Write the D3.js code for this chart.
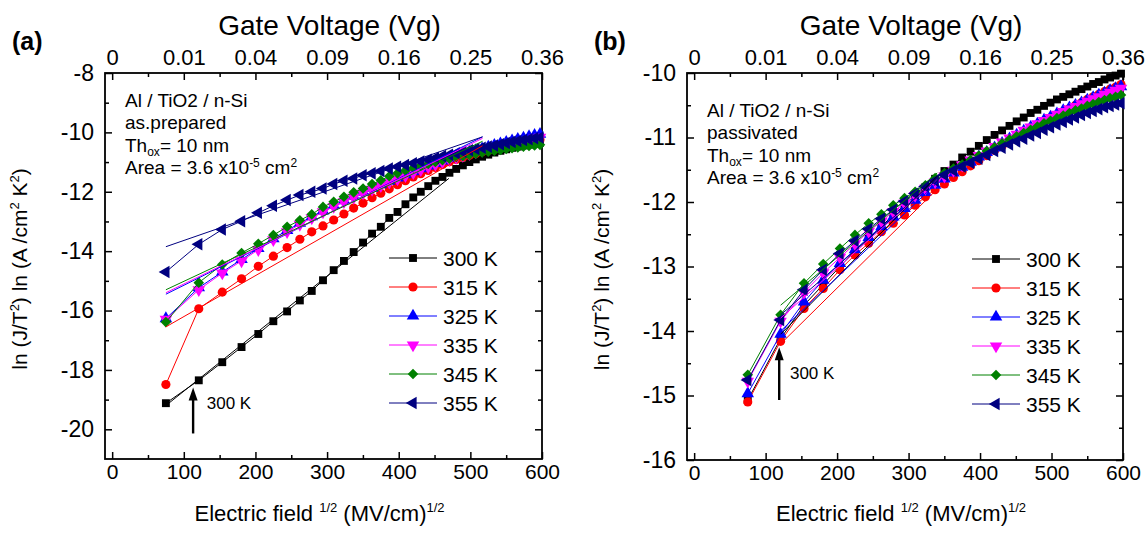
<!DOCTYPE html>
<html>
<head>
<meta charset="utf-8">
<script src="https://cdn.jsdelivr.net/npm/d3@7"></script>
<style>
body { margin: 0; background: #fff; }
svg { display: block; font-family: "Liberation Sans", Arial, sans-serif; }
</style>
</head>
<body>
<div id="app"></div>
<script>
// E^1/2 values (MV/cm)^1/2, shared by every series of both panels
var fieldSqrt = [75, 120.9, 153.7, 180.6, 204.0, 225.0, 244.2, 262.0, 278.6, 294.3, 309.2, 323.5, 337.1, 350.2, 362.8, 375.0,
  386.8, 398.3, 409.4, 420.3, 430.8, 441.2, 451.2, 461.1, 470.8, 480.2, 489.5, 498.6, 507.6, 516.4, 525.0, 533.5,
  541.9, 550.1, 558.2, 566.2, 574.1, 581.9, 589.6, 597.2];

var temps = ["300 K", "315 K", "325 K", "335 K", "345 K", "355 K"];
var colors = ["#000000", "#ff0000", "#0000ff", "#ff00ff", "#008000", "#000080"];
var gateLabels = ["0", "0.01", "0.04", "0.09", "0.16", "0.25", "0.36"];
var xMajor = [0, 100, 200, 300, 400, 500, 600];
var xMinor = [50, 150, 250, 350, 450, 550];

// panel (a): as prepared
var a300 = [-19.12, -18.35, -17.74, -17.23, -16.79, -16.36, -16.03, -15.66, -15.34, -14.98, -14.64, -14.33, -14.03, -13.71, -13.41, -13.18,
  -12.88, -12.68, -12.42, -12.19, -12.0, -11.81, -11.63, -11.5, -11.36, -11.23, -11.11, -11.0, -10.91, -10.82, -10.75, -10.68,
  -10.62, -10.57, -10.52, -10.48, -10.44, -10.41, -10.38, -10.35];
var a315 = [-18.49, -15.94, -15.38, -14.93, -14.51, -14.17, -13.88, -13.6, -13.35, -13.15, -12.95, -12.75, -12.55, -12.38, -12.2, -12.05,
  -11.9, -11.76, -11.63, -11.5, -11.39, -11.28, -11.18, -11.08, -10.99, -10.91, -10.84, -10.77, -10.71, -10.65, -10.6, -10.55,
  -10.5, -10.46, -10.42, -10.38, -10.35, -10.31, -10.28, -10.25];
var a325 = [-16.27, -15.23, -14.7, -14.28, -13.91, -13.58, -13.3, -13.06, -12.84, -12.64, -12.46, -12.3, -12.15, -12.01, -11.88, -11.76,
  -11.64, -11.53, -11.42, -11.32, -11.22, -11.13, -11.04, -10.96, -10.88, -10.81, -10.74, -10.67, -10.61, -10.55, -10.49, -10.43,
  -10.38, -10.33, -10.28, -10.23, -10.19, -10.14, -10.1, -10.06];
var a335 = [-16.3, -15.3, -14.74, -14.33, -13.95, -13.62, -13.35, -13.1, -12.88, -12.68, -12.5, -12.34, -12.19, -12.05, -11.92, -11.8,
  -11.68, -11.57, -11.46, -11.36, -11.26, -11.17, -11.08, -11.0, -10.92, -10.85, -10.78, -10.72, -10.66, -10.6, -10.55, -10.5,
  -10.45, -10.4, -10.36, -10.32, -10.28, -10.24, -10.2, -10.17];
var a345 = [-16.39, -15.06, -14.45, -14.06, -13.75, -13.46, -13.18, -12.96, -12.76, -12.51, -12.34, -12.17, -12.02, -11.89, -11.74, -11.61,
  -11.48, -11.38, -11.28, -11.2, -11.12, -11.06, -11.0, -10.94, -10.89, -10.84, -10.8, -10.76, -10.72, -10.68, -10.65, -10.62,
  -10.59, -10.56, -10.53, -10.51, -10.48, -10.46, -10.44, -10.42];
var a355 = [-14.7, -13.77, -13.27, -12.99, -12.71, -12.47, -12.28, -12.11, -12.0, -11.89, -11.74, -11.63, -11.55, -11.44, -11.38, -11.3,
  -11.22, -11.16, -11.1, -11.04, -10.98, -10.92, -10.86, -10.8, -10.75, -10.7, -10.65, -10.6, -10.56, -10.52, -10.48, -10.44,
  -10.4, -10.36, -10.32, -10.29, -10.26, -10.23, -10.2, -10.17];
// straight fits [x0, y0, x1, y1]
var fitsA = [[75, -19.2, 470, -11.55], [75, -16.55, 517, -10.45], [75, -15.45, 517, -10.15],
  [75, -15.4, 517, -10.2], [75, -15.3, 517, -10.3], [75, -13.85, 517, -10.15]];

// panel (b): passivated
var b300 = [-15.07, -14.12, -13.6, -13.28, -13.0, -12.76, -12.56, -12.38, -12.2, -12.05, -11.9, -11.77, -11.64, -11.52, -11.42, -11.31,
  -11.22, -11.13, -11.04, -10.96, -10.89, -10.82, -10.75, -10.69, -10.62, -10.57, -10.51, -10.46, -10.41, -10.37, -10.33, -10.29,
  -10.25, -10.21, -10.17, -10.14, -10.1, -10.07, -10.04, -10.01];
var b315 = [-15.1, -14.16, -13.65, -13.34, -13.05, -12.82, -12.64, -12.46, -12.33, -12.2, -12.05, -11.92, -11.81, -11.72, -11.62, -11.53,
  -11.44, -11.36, -11.28, -11.2, -11.13, -11.06, -11.0, -10.93, -10.87, -10.81, -10.76, -10.7, -10.65, -10.6, -10.55, -10.5,
  -10.46, -10.41, -10.37, -10.33, -10.29, -10.25, -10.22, -10.18];
var b325 = [-14.97, -14.05, -13.55, -13.21, -12.95, -12.74, -12.55, -12.38, -12.23, -12.1, -11.97, -11.85, -11.74, -11.64, -11.55, -11.46,
  -11.38, -11.3, -11.23, -11.16, -11.09, -11.02, -10.96, -10.9, -10.84, -10.79, -10.73, -10.68, -10.63, -10.58, -10.54, -10.5,
  -10.46, -10.42, -10.38, -10.34, -10.31, -10.27, -10.24, -10.21];
var b335 = [-14.78, -13.85, -13.4, -13.1, -12.86, -12.65, -12.46, -12.3, -12.15, -12.02, -11.9, -11.79, -11.69, -11.6, -11.51, -11.43,
  -11.35, -11.28, -11.21, -11.14, -11.07, -11.01, -10.95, -10.89, -10.84, -10.79, -10.74, -10.69, -10.64, -10.6, -10.56, -10.52,
  -10.48, -10.44, -10.4, -10.37, -10.33, -10.3, -10.27, -10.24];
var b345 = [-14.68, -13.75, -13.26, -12.96, -12.72, -12.51, -12.33, -12.19, -12.05, -11.94, -11.84, -11.74, -11.63, -11.55, -11.48, -11.42,
  -11.35, -11.28, -11.21, -11.15, -11.09, -11.03, -10.98, -10.93, -10.88, -10.83, -10.78, -10.74, -10.7, -10.66, -10.62, -10.58,
  -10.55, -10.51, -10.48, -10.45, -10.42, -10.39, -10.37, -10.34];
var b355 = [-14.76, -13.83, -13.36, -13.05, -12.8, -12.6, -12.42, -12.26, -12.12, -11.99, -11.87, -11.76, -11.67, -11.58, -11.51, -11.45,
  -11.39, -11.33, -11.27, -11.21, -11.16, -11.11, -11.06, -11.02, -10.97, -10.93, -10.88, -10.84, -10.8, -10.76, -10.72, -10.69,
  -10.65, -10.62, -10.59, -10.56, -10.53, -10.51, -10.49, -10.47];
var fitsB = [[121, -14.05, 340, -11.6], [121, -14.2, 340, -11.8], [121, -14.0, 340, -11.7],
  [121, -13.8, 340, -11.65], [121, -13.6, 340, -11.55], [121, -13.75, 340, -11.65]];

var W = 1146, H = 537;
var svg = d3.select("#app").append("svg").attr("width", W).attr("height", H);

// marker shapes: square, circle, up, down, diamond, left
var shapes = [
  {type: d3.symbolSquare, size: 62, rot: 0},
  {type: d3.symbolCircle, size: 66, rot: 0},
  {type: d3.symbolTriangle, size: 68, rot: 0},
  {type: d3.symbolTriangle, size: 68, rot: 180},
  {type: d3.symbolSquare, size: 56, rot: 45},
  {type: d3.symbolTriangle, size: 68, rot: -90}
];

function styleAxis(g, fs) {
  g.select(".domain").remove();
  g.selectAll("line").attr("stroke", "#000").attr("stroke-width", 1.5);
  g.selectAll("text").attr("font-size", fs).attr("fill", "#000")
    .attr("font-family", "'Liberation Sans', Arial, sans-serif");
}

function drawPanel(p) {
  var x = d3.scaleLinear().domain([-10, 600]).range([p.left, p.right]);
  var y = d3.scaleLinear().domain(p.yDomain).range([p.bottom, p.top]);
  var g = svg.append("g");

  // axes, ticks pointing inwards
  g.append("g").attr("transform", "translate(0," + p.bottom + ")")
    .call(d3.axisBottom(x).tickValues(xMajor).tickSize(-7).tickPadding(5).tickFormat(function (d) { return String(d); }))
    .call(styleAxis, 21);
  g.append("g").attr("transform", "translate(0," + p.bottom + ")")
    .call(d3.axisBottom(x).tickValues(xMinor).tickSize(-4).tickFormat(""))
    .call(styleAxis, 21);
  g.append("g").attr("transform", "translate(0," + p.top + ")")
    .call(d3.axisTop(x).tickValues(xMajor).tickSize(-7).tickPadding(8).tickFormat(function (d, i) { return gateLabels[i]; }))
    .call(styleAxis, 22);
  g.append("g").attr("transform", "translate(0," + p.top + ")")
    .call(d3.axisTop(x).tickValues(xMinor).tickSize(-4).tickFormat(""))
    .call(styleAxis, 22);
  g.append("g").attr("transform", "translate(" + p.left + ",0)")
    .call(d3.axisLeft(y).tickValues(p.yMajor).tickSize(-7).tickPadding(11).tickFormat(function (d) { return String(d); }))
    .call(styleAxis, 23);
  g.append("g").attr("transform", "translate(" + p.left + ",0)")
    .call(d3.axisLeft(y).tickValues(p.yMinor).tickSize(-4).tickFormat(""))
    .call(styleAxis, 23);
  g.append("g").attr("transform", "translate(" + p.right + ",0)")
    .call(d3.axisRight(y).tickValues(p.yMajor).tickSize(-7).tickFormat(""))
    .call(styleAxis, 23);
  g.append("g").attr("transform", "translate(" + p.right + ",0)")
    .call(d3.axisRight(y).tickValues(p.yMinor).tickSize(-4).tickFormat(""))
    .call(styleAxis, 23);

  g.append("rect").attr("x", p.left).attr("y", p.top)
    .attr("width", p.right - p.left).attr("height", p.bottom - p.top)
    .attr("fill", "none").attr("stroke", "#000").attr("stroke-width", 1.8);

  var line = d3.line().x(function (d) { return x(d[0]); }).y(function (d) { return y(d[1]); });

  p.series.forEach(function (vals, i) {
    var pts = vals.map(function (v, k) { return [fieldSqrt[k], v]; });
    var s = g.append("g");
    s.append("path").datum(pts).attr("d", line)
      .attr("fill", "none").attr("stroke", colors[i]).attr("stroke-width", 1);
    var sym = d3.symbol().type(shapes[i].type).size(shapes[i].size);
    s.selectAll("path.m").data(pts).enter().append("path").attr("class", "m")
      .attr("d", sym)
      .attr("transform", function (d) { return "translate(" + x(d[0]) + "," + y(d[1]) + ") rotate(" + shapes[i].rot + ")"; })
      .attr("fill", colors[i]);
  });

  p.fits.forEach(function (f, i) {
    g.append("path").datum([[f[0], f[1]], [f[2], f[3]]]).attr("d", line)
      .attr("fill", "none").attr("stroke", colors[i]).attr("stroke-width", 1);
  });

  // legend
  temps.forEach(function (t, i) {
    var lg = g.append("g").attr("transform", "translate(" + p.legX + "," + (p.legY + i * 29) + ")");
    lg.append("line").attr("x1", 0).attr("x2", 48).attr("stroke", colors[i]).attr("stroke-width", 1);
    lg.append("path").attr("d", d3.symbol().type(shapes[i].type).size(shapes[i].size))
      .attr("transform", "translate(24,0) rotate(" + shapes[i].rot + ")").attr("fill", colors[i]);
    lg.append("text").attr("x", 54).attr("y", 7.5).attr("font-size", 21).text(t);
  });

  // sample description
  var tx = p.left + 20, ty = p.noteY;
  var fs = 19;
  g.append("text").attr("x", tx).attr("y", ty).attr("font-size", fs).text("Al / TiO2 / n-Si");
  g.append("text").attr("x", tx).attr("y", ty + 22).attr("font-size", fs).text(p.state);
  var t3 = g.append("text").attr("x", tx).attr("y", ty + 45).attr("font-size", fs);
  t3.append("tspan").text("Th");
  t3.append("tspan").attr("font-size", 12).attr("dy", 4).text("ox");
  t3.append("tspan").attr("dy", -4).text("=  10 nm");
  var t4 = g.append("text").attr("x", tx).attr("y", ty + 67).attr("font-size", fs);
  t4.append("tspan").text("Area = 3.6 x10");
  t4.append("tspan").attr("font-size", 12).attr("dy", -7).text("-5");
  t4.append("tspan").attr("dy", 7).text(" cm");
  t4.append("tspan").attr("font-size", 12).attr("dy", -7).text("2");

  // arrow marking 300 K
  var ax = x(p.arrow[0]), ay0 = y(p.arrow[1]), ay1 = y(p.arrow[2]);
  g.append("line").attr("x1", ax).attr("x2", ax).attr("y1", ay0).attr("y2", ay1 + 8)
    .attr("stroke", "#000").attr("stroke-width", 2.4);
  g.append("path").attr("d", "M" + ax + "," + ay1 + "L" + (ax - 4.5) + "," + (ay1 + 13) + "L" + (ax + 4.5) + "," + (ay1 + 13) + "Z")
    .attr("fill", "#000");
  g.append("text").attr("x", x(p.arrowText[0])).attr("y", y(p.arrowText[1])).attr("dy", 6)
    .attr("font-size", 17).text("300 K");

  // titles
  var cx = (p.left + p.right) / 2 + 6;
  g.append("text").attr("x", cx).attr("y", 35).attr("text-anchor", "middle").attr("font-size", 28).text("Gate Voltage (Vg)");
  g.append("text").attr("x", p.left - 93).attr("y", 50).attr("font-size", 25).attr("font-weight", "bold").text(p.tag);

  var xl = g.append("text").attr("x", cx - 10).attr("y", 521).attr("text-anchor", "middle").attr("font-size", 22);
  xl.append("tspan").text("Electric field ");
  xl.append("tspan").attr("font-size", 13).attr("dy", -9).text("1/2");
  xl.append("tspan").attr("dy", 9).text("  (MV/cm)");
  xl.append("tspan").attr("font-size", 13).attr("dy", -9).text("1/2");

  var cy = (p.top + p.bottom) / 2 + 3;
  var yl = g.append("text").attr("transform", "translate(" + (p.left - 78) + "," + cy + ") rotate(-90)")
    .attr("text-anchor", "middle").attr("font-size", 21);
  yl.append("tspan").text("ln (J/T");
  yl.append("tspan").attr("font-size", 13).attr("dy", -8).text("2");
  yl.append("tspan").attr("dy", 8).text(") ln (A /cm");
  yl.append("tspan").attr("font-size", 13).attr("dy", -8).text("2");
  yl.append("tspan").attr("dy", 8).text(" K");
  yl.append("tspan").attr("font-size", 13).attr("dy", -8).text("2");
  yl.append("tspan").attr("dy", 8).text(")");
}

drawPanel({
  left: 105, right: 542, top: 73, bottom: 459,
  yDomain: [-21, -8], yMajor: [-20, -18, -16, -14, -12, -10, -8], yMinor: [-19, -17, -15, -13, -11, -9],
  series: [a300, a315, a325, a335, a345, a355], fits: fitsA,
  legX: 389, legY: 258, noteY: 107, state: "as.prepared",
  arrow: [113, -20.14, -18.59], arrowText: [132, -19.1], tag: "(a)"
});
drawPanel({
  left: 687, right: 1123, top: 73, bottom: 460,
  yDomain: [-16, -10], yMajor: [-16, -15, -14, -13, -12, -11, -10], yMinor: [-15.5, -14.5, -13.5, -12.5, -11.5, -10.5],
  series: [b300, b315, b325, b335, b345, b355], fits: fitsB,
  legX: 972, legY: 259, noteY: 117, state: "passivated",
  arrow: [119, -15.07, -14.25], arrowText: [134, -14.65], tag: "(b)"
});
</script>
</body>
</html>
